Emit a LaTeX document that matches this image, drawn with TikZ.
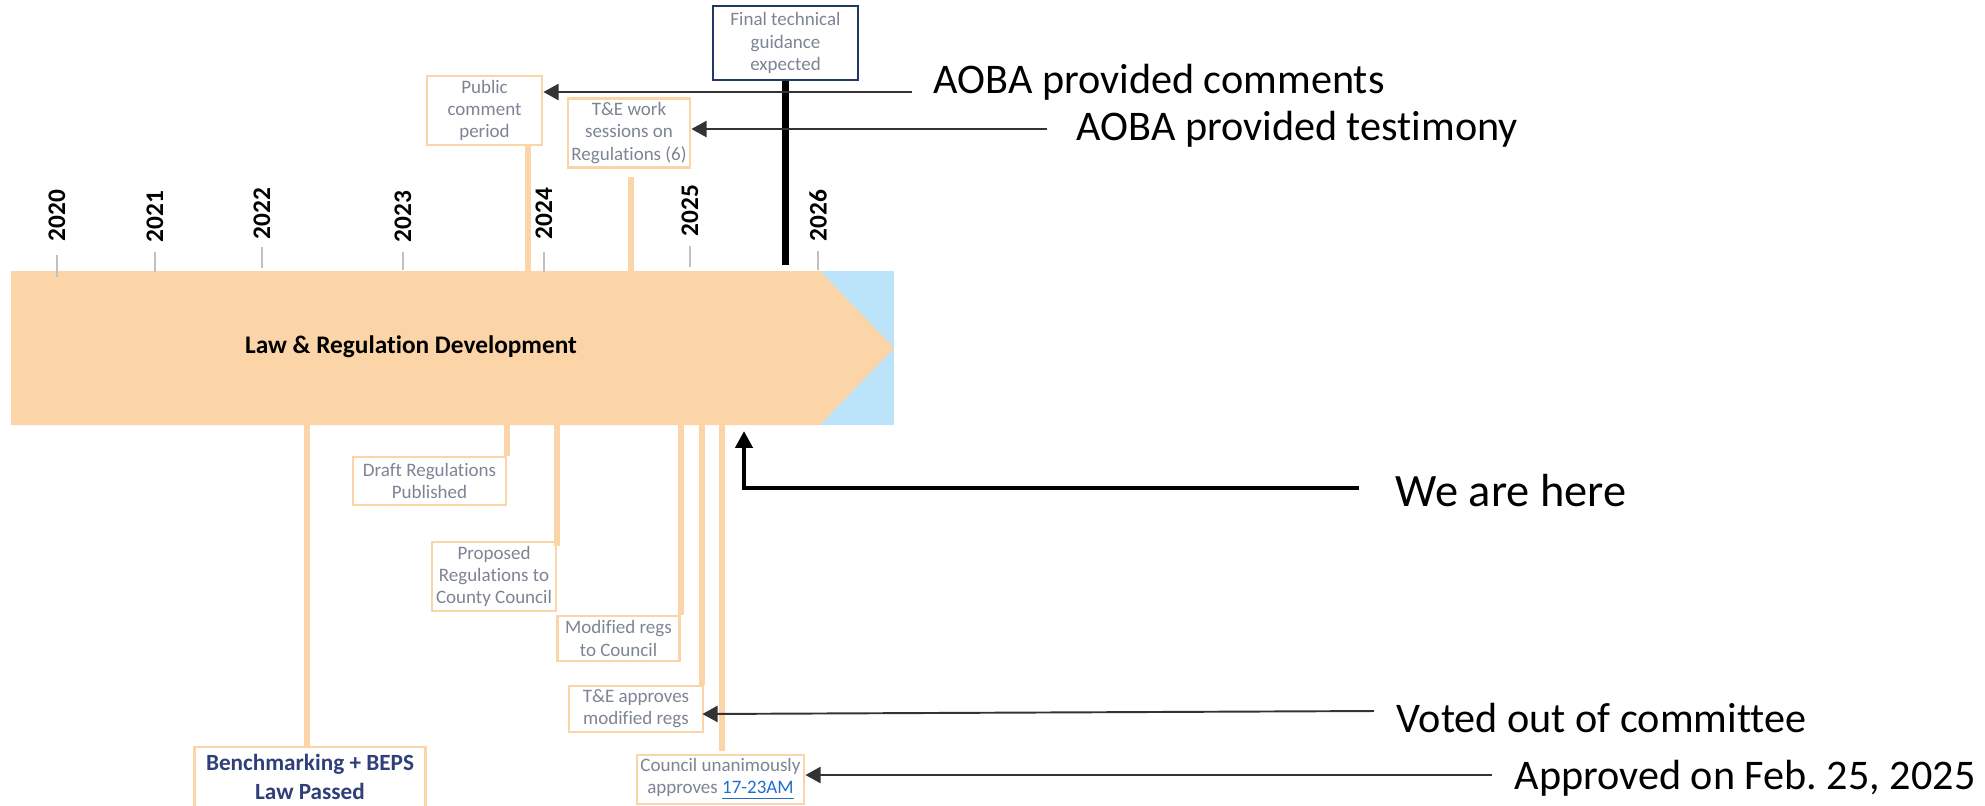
\documentclass[tikz,border=0pt]{standalone}
\usepackage{fontspec}
\setmainfont{Carlito}[Ligatures=NoCommon]
\usetikzlibrary{arrows.meta}
\definecolor{peach}{HTML}{FBD4A8}
\definecolor{sky}{HTML}{BBE4FA}
\definecolor{boxtext}{HTML}{7D8493}
\definecolor{navyline}{HTML}{1F3864}
\definecolor{navytext}{HTML}{2F3F78}
\definecolor{tickgray}{HTML}{C0C0C0}
\definecolor{linkblue}{HTML}{1F6FD1}
\frenchspacing
\begin{document}
\begin{tikzpicture}[x=0.01cm,y=-0.01cm,
  evbox/.style={draw=peach, line width=0.8pt, fill=white, text=boxtext, align=center,
    inner sep=0pt, font=\fontsize{5.4}{6.3}\selectfont},
  stem/.style={draw=peach, line width=1.7pt},
  tickmark/.style={draw=tickgray, line width=0.55pt},
  yearlbl/.style={font=\bfseries\fontsize{7.2}{8}\selectfont, rotate=90, anchor=west, inner sep=0pt},
  note/.style={font=\fontsize{12}{14}\selectfont, anchor=base west, inner sep=0pt},
  pointer/.style={draw=black!80, line width=0.55pt, -{Triangle[length=4.3pt,width=4.6pt]}},
  herearrow/.style={draw=black, line width=1.4pt, -{Triangle[length=4.8pt,width=4.8pt]}},
]
\useasboundingbox (0,0) rectangle (1985,805);

% phase bar with its arrow head
\fill[sky] (820,271) rectangle (894,425);
\fill[peach] (11,271) -- (820,271) -- (894,348) -- (820,425) -- (11,425) -- cycle;
\node[font=\bfseries\fontsize{7.2}{8}\selectfont, inner sep=0pt] (phase) at (411,347) {Law \& Regulation Development};
\coordinate (barN) at (0,271);
\coordinate (barS) at (0,425);

% year scale
\foreach \x/\yb/\tt/\tb/\yr in {57/242/255/277/2020, 155/243/252/272/2021, 262/240/247/268/2022,
    403/243/252/270/2023, 544/240/252/272/2024, 690/237/246/267/2025, 818/242/251/270/2026}{
  \node[yearlbl] (year\yr) at (\x,\yb) {\yr};
  \draw[tickmark] (\x,\tt) -- (\x,\tb);
}

% milestones above the bar
\node[evbox, draw=navyline, minimum width=1.45cm, minimum height=0.74cm] (final) at (785.5,43)
  {Final technical\\guidance\\expected};
\node[evbox, minimum width=1.15cm, minimum height=0.69cm] (pub) at (484.5,110.5)
  {Public\\comment\\period};
\node[evbox, minimum width=1.22cm, minimum height=0.69cm] (tew) at (629,133)
  {T\&E work\\sessions on\\Regulations (6)};

% milestones below the bar
\node[evbox, minimum width=1.53cm, minimum height=0.48cm] (draft) at (429.5,481)
  {Draft Regulations\\Published};
\node[evbox, minimum width=1.24cm, minimum height=0.69cm] (prop) at (494,576.5)
  {Proposed\\Regulations to\\County Council};
\node[evbox, minimum width=1.22cm, minimum height=0.45cm] (mod) at (618.5,638.5)
  {Modified regs\\to Council};
\node[evbox, minimum width=1.34cm, minimum height=0.46cm] (teapp) at (636,709)
  {T\&E approves\\modified regs};
\node[evbox, minimum width=1.67cm, minimum height=0.49cm] (council) at (720.5,779.5)
  {Council unanimously\\approves \textcolor{linkblue}{\underline{17-23AM}}};
\node[evbox, text=navytext, font=\bfseries\fontsize{6.6}{8.2}\selectfont,
  minimum width=2.31cm, minimum height=0.6cm] (bench) at (310,777)
  {Benchmarking + BEPS\\Law Passed};

% stems joining milestones to the bar
\draw[line width=2pt, black] (final.south) -- ([yshift=0.06cm]final.south |- barN);
\draw[stem] ([xshift=-0.15cm]pub.south east) -- ([xshift=-0.15cm]pub.south east |- barN);
\draw[stem] ([xshift=0.02cm,yshift=-0.08cm]tew.south) -- ([xshift=0.02cm]tew.south |- barN);
\draw[stem] (draft.north east |- barS) -- (draft.north east);
\draw[stem] (prop.north east |- barS) -- ([yshift=-0.05cm]prop.north east);
\draw[stem] (mod.north east |- barS) -- (mod.north east);
\draw[stem] ([xshift=-0.02cm]teapp.north east |- barS) -- ([xshift=-0.02cm]teapp.north east);
\draw[stem] ([xshift=0.015cm]council.north |- barS) -- ([xshift=0.015cm,yshift=0.03cm]council.north);
\draw[stem] ([xshift=-0.03cm]bench.north |- barS) -- ([xshift=-0.03cm]bench.north);

% call-outs
\node[note] (lcom) at (933,93) {AOBA provided comments};
\node[note] (ltest) at (1076,140) {AOBA provided testimony};
\node[note, font=\fontsize{13.2}{15}\selectfont] (lhere) at (1395,506) {We are here};
\node[note] (lvote) at (1396,732) {Voted out of committee};
\node[note] (lappr) at (1514,789) {Approved on Feb. 25, 2025};

\coordinate (c1) at (912,92);
\coordinate (c2) at (1047,129);
\coordinate (c3) at (1359,488);
\coordinate (herept) at (744,431);
\coordinate (c4) at (1374,711);
\coordinate (c5) at (1492,775);

\draw[pointer] (c1) -- (c1 -| pub.east);
\draw[pointer] (c2) -- (c2 -| tew.east);
\draw[herearrow] (c3) -| (herept);
\draw[pointer] (c4) -- ([xshift=-0.02cm,yshift=-0.05cm]teapp.east);
\draw[pointer] (c5) -- (c5 -| council.east);
\end{tikzpicture}
\end{document}
